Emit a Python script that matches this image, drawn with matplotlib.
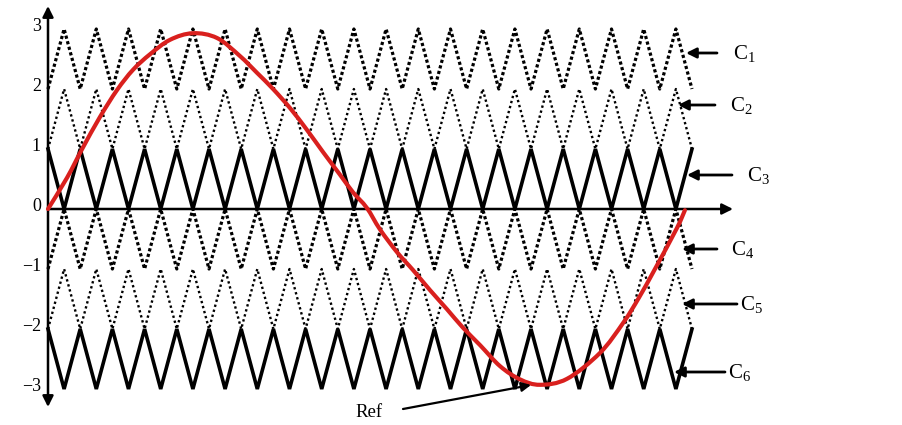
import numpy as np
import matplotlib
matplotlib.use("Agg")
import matplotlib.pyplot as plt
from matplotlib.path import Path
from matplotlib.patches import PathPatch

plt.rcParams['font.family'] = ['Liberation Serif', 'DejaVu Serif']
plt.rcParams['mathtext.fontset'] = 'custom'
plt.rcParams['mathtext.rm'] = 'Liberation Serif'
plt.rcParams['mathtext.it'] = 'Liberation Serif:italic'

# ---------------- data ----------------
carrier_names = ['C1', 'C2', 'C3', 'C4', 'C5', 'C6']
carrier_low = [2, 1, 0, -1, -2, -3]           # bottom of each carrier band
carrier_start_high = [False, False, True, False, False, True]
carrier_kind = ['dot', 'dot_light', 'solid', 'dot', 'dot_light', 'solid']
n_periods = 20

# reference (red) wave: x in carrier periods, y in levels
ref_x = [0.00, 0.59, 1.06, 1.61, 2.14, 2.64, 3.17, 3.79, 4.50, 5.25, 5.96,
         6.49, 6.99, 7.52, 8.04, 8.54, 9.07, 9.47, 9.90, 10.31, 10.84,
         11.34, 11.86, 12.39, 12.89, 13.42, 14.04, 14.66, 15.28, 16.12,
         17.14, 17.86, 18.35, 18.85, 19.53, 19.78]
ref_y = [0.00, 0.52, 1.00, 1.53, 1.98, 2.32, 2.58, 2.82, 2.93, 2.85, 2.55,
         2.27, 2.00, 1.68, 1.32, 0.95, 0.57, 0.28, 0.02, -0.34, -0.72,
         -1.02, -1.35, -1.67, -1.98, -2.27, -2.62, -2.84, -2.93, -2.83,
         -2.40, -1.90, -1.48, -1.00, -0.32, -0.02]

ytick_vals = [3, 2, 1, 0, -1, -2, -3]
ytick_labels = ['3', '2', '1', '0', '\u22121', '\u22122', '\u22123']

# ---------------- layout helpers (pixel -> data) ----------------
W, H = 903, 425
X0, SX = 48.0, 32.2      # pixel of x=0, pixels per carrier period
Y0, SY = 209.0, 60.0     # pixel row of y=0, pixels per level

def dx(px):
    return (px - X0) / SX

def dy(row):
    return (Y0 - row) / SY

fig = plt.figure(figsize=(W / 100, H / 100), dpi=100)
ax = fig.add_axes([0, 0, 1, 1])
ax.set_xlim(dx(0), dx(W))
ax.set_ylim(dy(H), dy(0))
ax.axis('off')

# ---------------- carriers ----------------
styles = {
    'solid': dict(lw=2.6, linestyle='-', solid_joinstyle='miter'),
    'dot': dict(lw=2.3, linestyle=(0, (1.0, 0.8))),
    'dot_light': dict(lw=1.7, linestyle=(0, (1.0, 1.2))),
}
vx = np.arange(0, 2 * n_periods + 1) / 2.0
for low, high_first, kind in zip(carrier_low, carrier_start_high, carrier_kind):
    idx = np.arange(len(vx))
    if high_first:
        vy = np.where(idx % 2 == 0, low + 1, low)
    else:
        vy = np.where(idx % 2 == 0, low, low + 1)
    ax.plot(vx, vy, color='black', zorder=2, **styles[kind])

# ---------------- axes with arrows ----------------
arr = dict(arrowstyle='-|>', lw=1.8, color='black', mutation_scale=16,
           shrinkA=0, shrinkB=0)
ax.annotate('', xy=(dx(733), 0), xytext=(0, 0), arrowprops=arr, zorder=3)
ax.annotate('', xy=(0, dy(6)), xytext=(0, 0), arrowprops=arr, zorder=3)
ax.annotate('', xy=(0, dy(407)), xytext=(0, 0), arrowprops=arr, zorder=3)

for v, lab in zip(ytick_vals, ytick_labels):
    ax.text(dx(41), v + 0.04, lab, ha='right', va='center', fontsize=13,
            color='black')

# ---------------- reference wave (smooth path through the read points) ----
P = np.column_stack([ref_x, ref_y]).astype(float)
verts = [tuple(P[0])]
codes = [Path.MOVETO]
n = len(P)
for i in range(n - 1):
    p0 = P[i - 1] if i > 0 else P[i]
    p1, p2 = P[i], P[i + 1]
    p3 = P[i + 2] if i + 2 < n else P[i + 1]
    c1 = p1 + (p2 - p0) / 6.0
    c2 = p2 - (p3 - p1) / 6.0
    verts += [tuple(c1), tuple(c2), tuple(p2)]
    codes += [Path.CURVE4] * 3
ax.add_patch(PathPatch(Path(verts, codes), facecolor='none',
                       edgecolor='#d9201e', lw=3.0, zorder=4,
                       capstyle='round', joinstyle='round'))

# ---------------- labels with arrows ----------------
lab_pos = [  # (tail px, tip px, row, text left px)
    (717, 686, 53, 733),
    (715, 678, 105, 730),
    (732, 687, 175, 747),
    (717, 682, 249, 731),
    (737, 682, 304, 740),
    (725, 674, 372, 728),
]
larr = dict(arrowstyle='-|>', lw=2.0, color='black', mutation_scale=15,
            shrinkA=0, shrinkB=0)
for name, (tail, tip, row, tx) in zip(carrier_names, lab_pos):
    ax.annotate('', xy=(dx(tip), dy(row)), xytext=(dx(tail), dy(row)),
                arrowprops=larr, zorder=5)
    ax.text(dx(tx), dy(row + 6), r'$\mathrm{C}_{\mathrm{%s}}$' % name[1:],
            ha='left', va='baseline', fontsize=15, color='black')

ax.annotate('', xy=(dx(531), dy(385)), xytext=(dx(403), dy(409)),
            arrowprops=dict(arrowstyle='-|>', lw=1.6, color='black',
                            mutation_scale=14, shrinkA=0, shrinkB=0), zorder=5)
ax.text(dx(355), dy(417), 'Ref', ha='left', va='baseline', fontsize=13.5,
        color='black')

fig.savefig('out.png', dpi=100)
